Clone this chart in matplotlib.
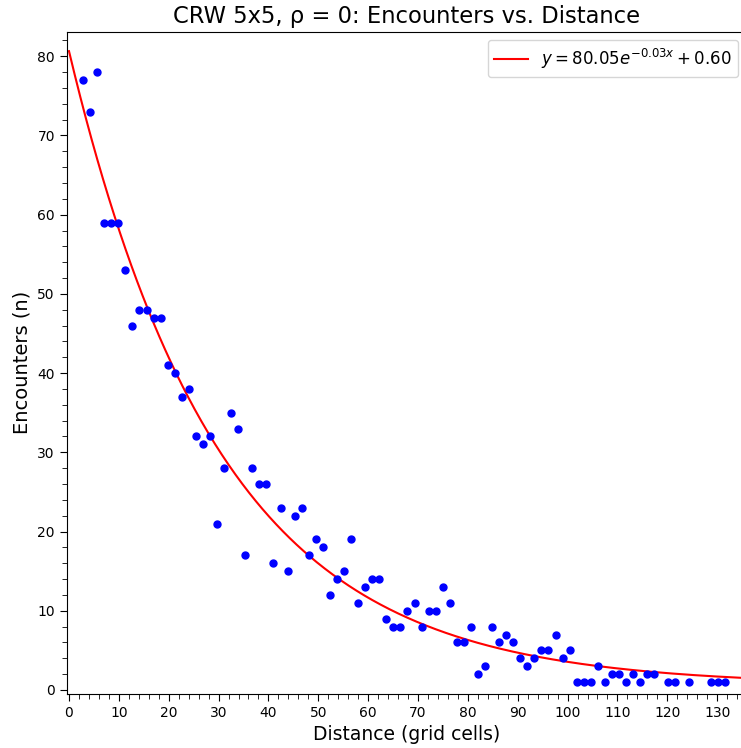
import numpy as np
import matplotlib
matplotlib.use('Agg')
import matplotlib.pyplot as plt
from matplotlib.ticker import MultipleLocator

# distances (grid cells) and encounter counts
distance = [2.83, 4.24, 5.66, 7.07, 8.49, 9.90, 11.31, 12.73, 14.14, 15.56,
            16.97, 18.38, 19.80, 21.21, 22.63, 24.04, 25.46, 26.87, 28.28, 29.70,
            31.11, 32.53, 33.94, 35.36, 36.77, 38.18, 39.60, 41.01, 42.43, 43.84,
            45.25, 46.67, 48.08, 49.50, 50.91, 52.33, 53.74, 55.15, 56.57, 57.98,
            59.40, 60.81, 62.23, 63.64, 65.05, 66.47, 67.88, 69.30, 70.71, 72.12,
            73.54, 74.95, 76.37, 77.78, 79.20, 80.61, 82.02, 83.44, 84.85, 86.27,
            87.68, 89.10, 90.51, 91.92, 93.34, 94.75, 96.17, 97.58, 98.99, 100.41,
            101.82, 103.24, 104.65, 106.07, 107.48, 108.89, 110.31, 111.72, 113.14, 114.55,
            115.97, 117.38, 120.21, 121.62, 124.45, 128.69, 130.11, 131.52]
encounters = [77, 73, 78, 59, 59, 59, 53, 46, 48, 48,
              47, 47, 41, 40, 37, 38, 32, 31, 32, 21,
              28, 35, 33, 17, 28, 26, 26, 16, 23, 15,
              22, 23, 17, 19, 18, 12, 14, 15, 19, 11,
              13, 14, 14, 9, 8, 8, 10, 11, 8, 10,
              10, 13, 11, 6, 6, 8, 2, 3, 8, 6,
              7, 6, 4, 3, 4, 5, 5, 7, 4, 5,
              1, 1, 1, 3, 1, 2, 2, 1, 2, 1,
              2, 2, 1, 1, 1, 1, 1, 1]

# exponential fit parameters
fit_a = 80.05
fit_b = 0.033
fit_c = 0.60

fig = plt.figure(figsize=(7.41, 7.48), dpi=100)
ax = fig.add_axes([0.090, 0.0726, 0.9175, 0.885])

ax.scatter(distance, encounters, s=25, color='blue', zorder=3)
xs = np.linspace(0, 136, 600)
ax.plot(xs, fit_a * np.exp(-fit_b * xs) + fit_c, color='red', linewidth=1.5,
        label=f'$y = {fit_a:.2f}e^{{-{fit_b:.2f}x}} + {fit_c:.2f}$')

ax.set_xlim(-0.46, 135.9)
ax.set_ylim(-0.47, 83.1)
ax.xaxis.set_major_locator(MultipleLocator(10))
ax.xaxis.set_minor_locator(MultipleLocator(2))
ax.yaxis.set_major_locator(MultipleLocator(10))
ax.yaxis.set_minor_locator(MultipleLocator(2))
ax.tick_params(which='major', length=5, labelsize=10)
ax.tick_params(which='minor', length=3.5)

ax.set_title('CRW 5x5, ρ = 0: Encounters vs. Distance', fontsize=16.3)
ax.set_xlabel('Distance (grid cells)', fontsize=13.5)
ax.set_ylabel('Encounters (n)', fontsize=14)
ax.legend(loc='upper right', fontsize=12)

fig.savefig('out.png', dpi=100)
